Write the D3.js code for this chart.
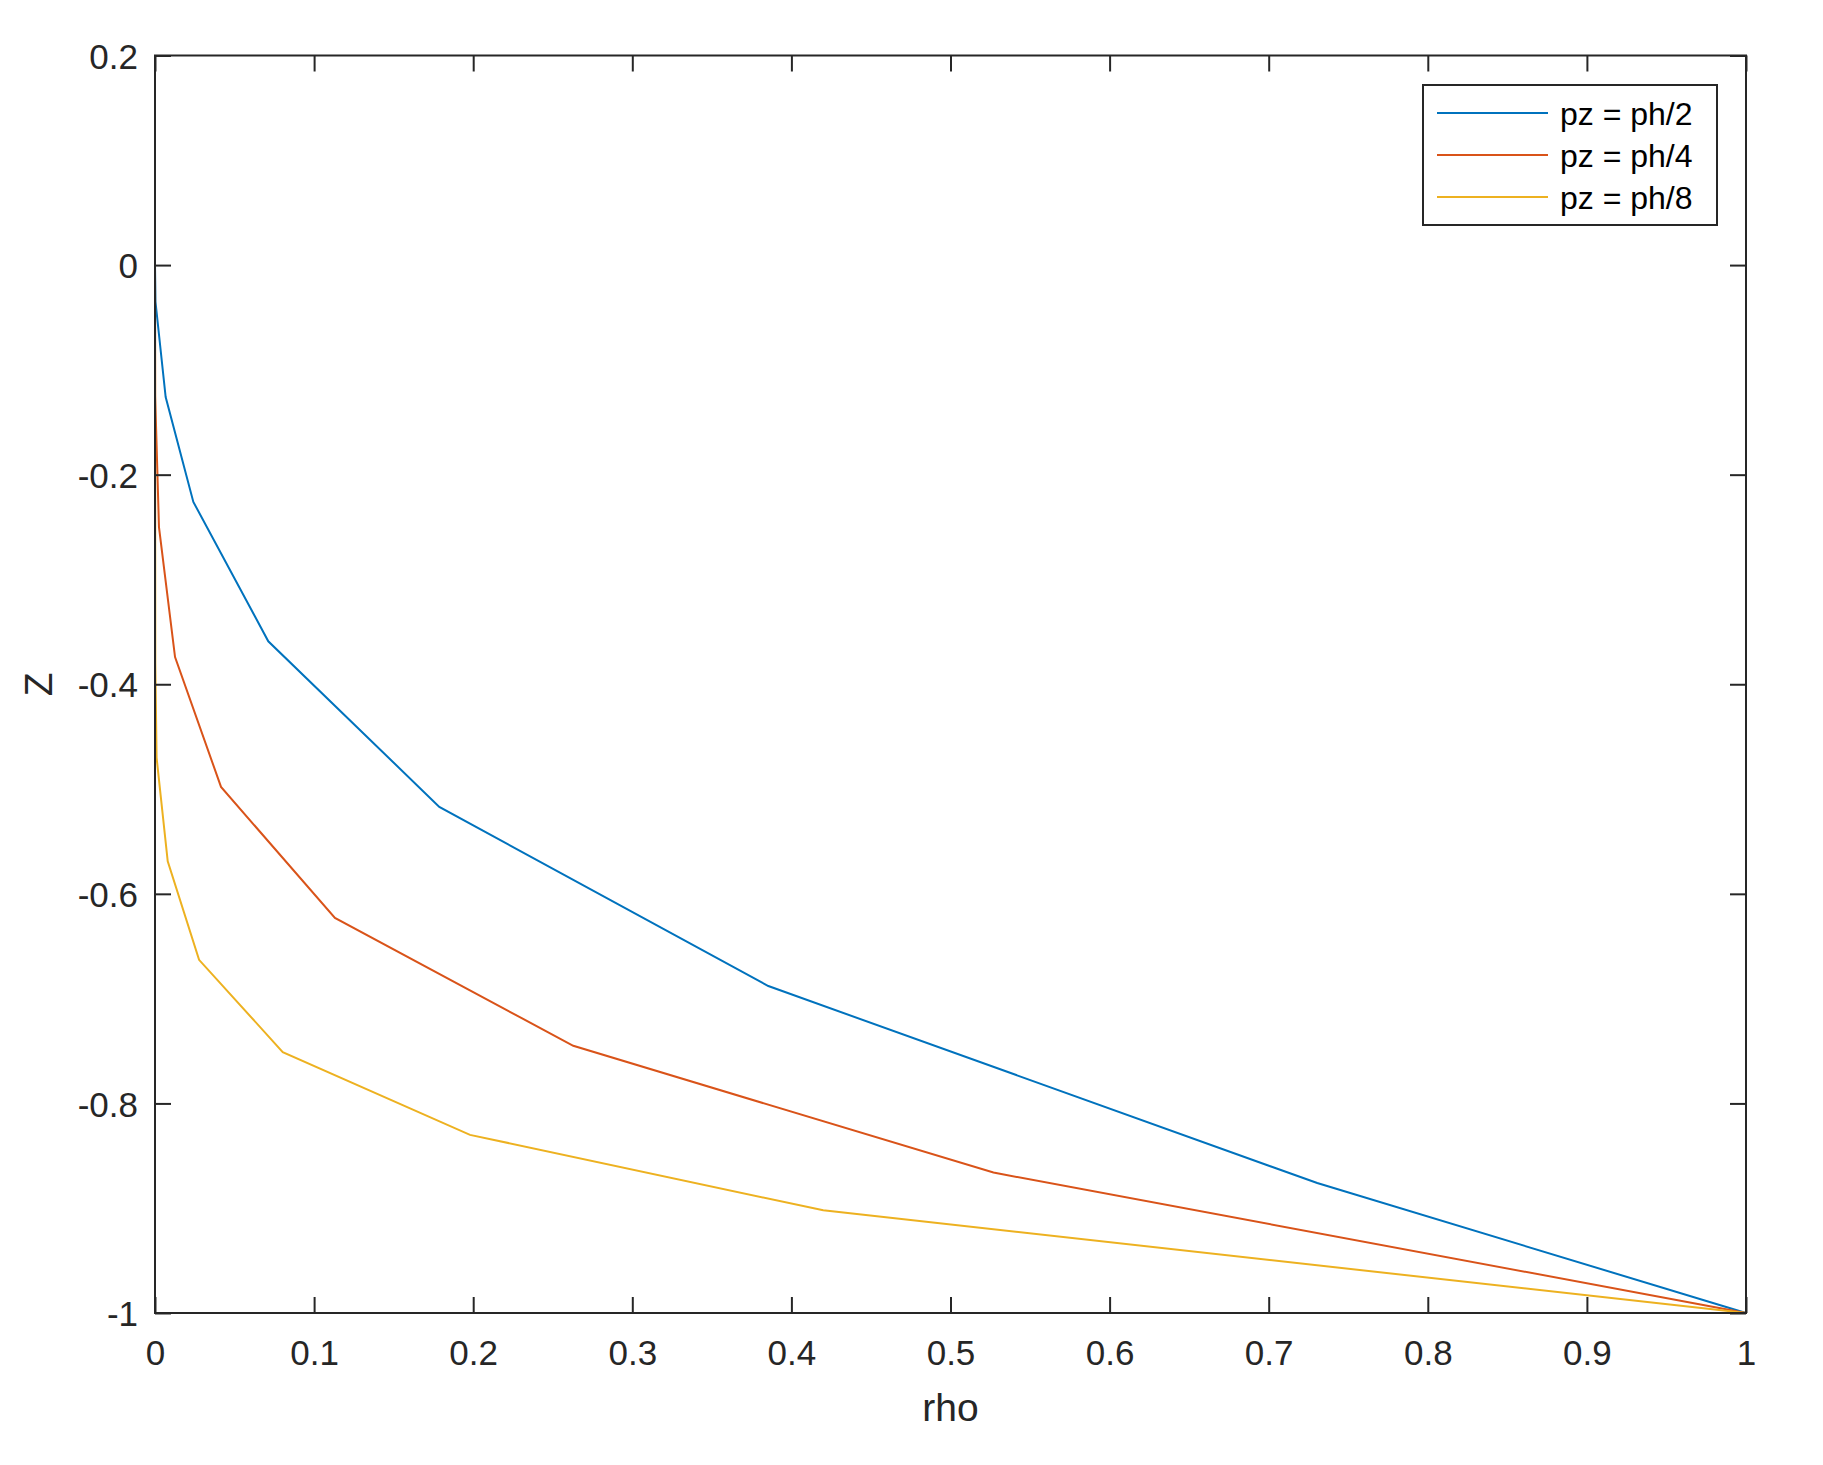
<!DOCTYPE html>
<html>
<head>
<meta charset="utf-8">
<script src="https://cdn.jsdelivr.net/npm/d3@7"></script>
<style>
  html, body { margin: 0; padding: 0; background: #ffffff; }
  svg { display: block; }
  text { font-family: "Liberation Sans", Arial, Helvetica, sans-serif; }
</style>
</head>
<body>
<svg id="chart" width="1823" height="1465"></svg>
<script>
// ---- data ----
const seriesNames = ["pz = ph/2", "pz = ph/4", "pz = ph/8"];
const seriesColors = ["#0072BD", "#D95319", "#EDB120"];

const rhoHalf   = [0, 0.0003, 0.0067, 0.0241, 0.0712, 0.1787, 0.3855, 0.7305, 1];
const zHalf     = [0, -0.035, -0.126, -0.226, -0.359, -0.517, -0.688, -0.876, -1];

const rhoQuarter = [0, 0.0001, 0.0025, 0.0126, 0.0415, 0.1131, 0.2629, 0.527, 1];
const zQuarter   = [0, -0.125, -0.25, -0.374, -0.498, -0.623, -0.745, -0.866, -1];

const rhoEighth = [0, 0.00005, 0.0002, 0.001, 0.008, 0.0277, 0.0803, 0.198, 0.42, 1];
const zEighth   = [0, -0.1, -0.38, -0.47, -0.569, -0.663, -0.751, -0.83, -0.902, -1];

const xTickValues = [0, 0.1, 0.2, 0.3, 0.4, 0.5, 0.6, 0.7, 0.8, 0.9, 1];
const xTickLabels = ["0", "0.1", "0.2", "0.3", "0.4", "0.5", "0.6", "0.7", "0.8", "0.9", "1"];
const yTickValues = [-1, -0.8, -0.6, -0.4, -0.2, 0, 0.2];
const yTickLabels = ["-1", "-0.8", "-0.6", "-0.4", "-0.2", "0", "0.2"];

const xLabel = "rho";
const yLabel = "Z";

// ---- layout ----
const L = 155, R = 1746, T = 55.5, B = 1313;
const axisColor = "#262626";

const svg = d3.select("#chart");
const x = d3.scaleLinear().domain([0, 1]).range([L, R]);
const y = d3.scaleLinear().domain([-1, 0.2]).range([B, T]);

const series = [
  { name: seriesNames[0], color: seriesColors[0], pts: d3.zip(rhoHalf, zHalf) },
  { name: seriesNames[1], color: seriesColors[1], pts: d3.zip(rhoQuarter, zQuarter) },
  { name: seriesNames[2], color: seriesColors[2], pts: d3.zip(rhoEighth, zEighth) }
];

// box
svg.append("rect")
  .attr("x", L).attr("y", T).attr("width", R - L).attr("height", B - T)
  .attr("fill", "#fff");

// lines
const line = d3.line().x(d => x(d[0])).y(d => y(d[1]));
svg.append("g").selectAll("path").data(series).join("path")
  .attr("d", d => line(d.pts))
  .attr("fill", "none")
  .attr("stroke", d => d.color)
  .attr("stroke-width", 2);

// axes
function styleAxis(g) {
  g.select(".domain").remove();
  g.selectAll(".tick line").attr("stroke", axisColor).attr("stroke-width", 2);
  g.selectAll(".tick text").attr("fill", axisColor).attr("font-size", 35)
    .attr("font-family", '"Liberation Sans", Arial, Helvetica, sans-serif');
}

svg.append("g").attr("transform", `translate(0,${B})`)
  .call(d3.axisBottom(x).tickValues(xTickValues).tickFormat((d, i) => xTickLabels[i])
    .tickSizeInner(-16).tickSizeOuter(0).tickPadding(27))
  .call(styleAxis);

svg.append("g").attr("transform", `translate(0,${T})`)
  .call(d3.axisTop(x).tickValues(xTickValues).tickFormat("")
    .tickSizeInner(-16).tickSizeOuter(0))
  .call(styleAxis);

svg.append("g").attr("transform", `translate(${L},0)`)
  .call(d3.axisLeft(y).tickValues(yTickValues).tickFormat((d, i) => yTickLabels[i])
    .tickSizeInner(-16).tickSizeOuter(0).tickPadding(17))
  .call(styleAxis)
  .selectAll(".tick text").attr("dy", "0.36em");

svg.append("g").attr("transform", `translate(${R},0)`)
  .call(d3.axisRight(y).tickValues(yTickValues).tickFormat("")
    .tickSizeInner(-16).tickSizeOuter(0))
  .call(styleAxis);

// box outline
svg.append("rect")
  .attr("x", L).attr("y", T).attr("width", R - L).attr("height", B - T)
  .attr("fill", "none").attr("stroke", axisColor).attr("stroke-width", 2);

// axis labels
svg.append("text")
  .attr("x", (L + R) / 2).attr("y", 1421)
  .attr("text-anchor", "middle").attr("font-size", 39).attr("fill", axisColor)
  .text(xLabel);

svg.append("text")
  .attr("transform", `translate(52,${(T + B) / 2}) rotate(-90)`)
  .attr("text-anchor", "middle").attr("font-size", 39).attr("fill", axisColor)
  .text(yLabel);

// legend
const lg = svg.append("g");
lg.append("rect")
  .attr("x", 1423).attr("y", 85).attr("width", 294).attr("height", 140)
  .attr("fill", "#fff").attr("stroke", axisColor).attr("stroke-width", 2);
const rowY = [113, 155, 197];
const items = lg.selectAll("g.item").data(series).join("g").attr("class", "item");
items.append("line")
  .attr("x1", 1437).attr("x2", 1548)
  .attr("y1", (d, i) => rowY[i]).attr("y2", (d, i) => rowY[i])
  .attr("stroke", d => d.color).attr("stroke-width", 2);
items.append("text")
  .attr("x", 1560).attr("y", (d, i) => rowY[i] + 12)
  .attr("font-size", 32).attr("fill", "#000")
  .text(d => d.name);
</script>
</body>
</html>
